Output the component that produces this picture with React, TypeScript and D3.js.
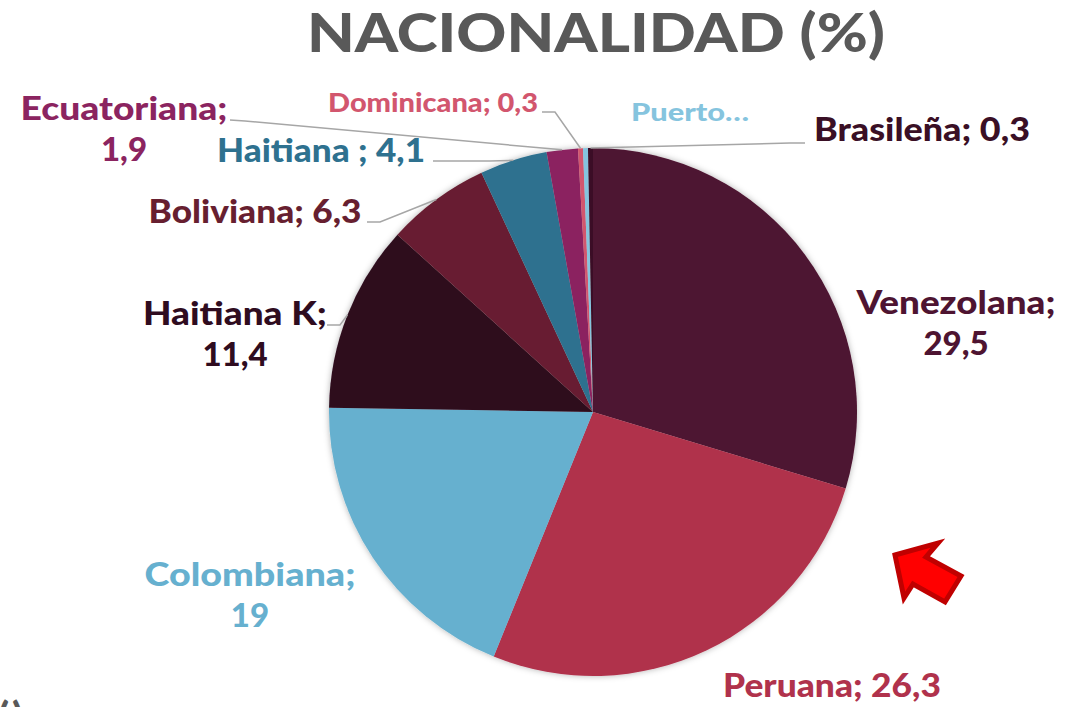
import React, { useEffect, useRef } from "react";
import * as d3 from "d3";

const categories = ["Venezolana", "Peruana", "Colombiana", "Haitiana K", "Boliviana", "Haitiana", "Ecuatoriana", "Dominicana", "Puerto Rico", "Brasileña"];
const values = [29.5, 26.3, 19, 11.4, 6.3, 4.1, 1.9, 0.3, 0.3, 0.3];
const colors = ["#4e1431", "#b0324c", "#66b0cf", "#2f0c1f", "#671f30", "#2e718f", "#8b2460", "#d2566e", "#85c4de", "#3a0f25"];

// label text lines, placed by hand like the manually moved labels of the original
// w = measured width of the first line, the original font runs wider than Lato
const labels = [
  { lines: ["Venezolana;", "29,5"], x: 956, y: 314, size: 33, w: 199, color: "#4e1431" },
  { lines: ["Peruana; 26,3"], x: 832, y: 697, size: 33, w: 218, color: "#b0324c" },
  { lines: ["Colombiana;", "19"], x: 250, y: 586, size: 33, w: 211, color: "#66b0cf" },
  { lines: ["Haitiana K;", "11,4"], x: 235, y: 325, size: 33, w: 184, color: "#2f0c1f" },
  { lines: ["Boliviana; 6,3"], x: 255, y: 223, size: 33, w: 213, color: "#671f30" },
  { lines: ["Haitiana ; 4,1"], x: 321, y: 162, size: 33, w: 208, color: "#2e718f" },
  { lines: ["Ecuatoriana;", "1,9"], x: 124, y: 120, size: 33, w: 207, color: "#8b2460" },
  { lines: ["Dominicana; 0,3"], x: 433, y: 112, size: 27, w: 210, color: "#d2566e" },
  { lines: ["Puerto…"], x: 690, y: 121, size: 25, w: 118, color: "#85c4de" },
  { lines: ["Brasileña; 0,3"], x: 922, y: 141, size: 33, w: 216, color: "#3a0f25" },
];

// leader line start and elbow for each label that has one
const leaders = [
  { index: 3, points: [[327, 325], [340, 325]] },
  { index: 4, points: [[367, 222], [380, 222]] },
  { index: 5, points: [[433, 161], [490, 161]] },
  { index: 6, points: [[230, 120], [245, 121]] },
  { index: 7, points: [[542, 112], [555, 112]] },
  { index: 9, points: [[805, 143], [790, 143]] },
];

const Chart = () => {
  const ref = useRef<SVGSVGElement>(null);

  useEffect(() => {
    const svg = d3.select(ref.current);
    svg.selectAll("*").remove();

    const width = 1084;
    const height = 707;
    const cx = 593;
    const cy = 412;
    const radius = 264;

    svg.attr("width", width).attr("height", height).attr("viewBox", [0, 0, width, height]);

    const filter = svg.append("defs").append("filter").attr("id", "pieShadow")
      .attr("x", "-10%").attr("y", "-10%").attr("width", "120%").attr("height", "120%");
    filter.append("feDropShadow").attr("dx", 0).attr("dy", 0).attr("stdDeviation", 3)
      .attr("flood-color", "#000").attr("flood-opacity", 0.3);

    const pie = d3.pie<number>().sort(null).value((d) => d);
    const arcs = pie(values);
    const arc = d3.arc<d3.PieArcDatum<number>>().innerRadius(0).outerRadius(radius);

    svg.append("text")
      .attr("x", 596).attr("y", 52)
      .attr("text-anchor", "middle")
      .attr("font-family", "Lato")
      .attr("font-weight", 900)
      .attr("font-size", 54)
      .attr("fill", "#595959")
      .attr("textLength", 578)
      .attr("lengthAdjust", "spacingAndGlyphs")
      .text("NACIONALIDAD (%)");

    const g = svg.append("g").attr("transform", `translate(${cx},${cy})`);
    g.append("g").attr("filter", "url(#pieShadow)")
      .selectAll("path")
      .data(arcs)
      .join("path")
      .attr("d", arc)
      .attr("fill", (d, i) => colors[i]);

    // leader lines end on the outer edge of their slice
    const line = d3.line();
    svg.append("g")
      .attr("fill", "none")
      .attr("stroke", "#a6a6a6")
      .attr("stroke-width", 1.5)
      .selectAll("path")
      .data(leaders)
      .join("path")
      .attr("d", (d) => {
        const a = arcs[d.index];
        const mid = (a.startAngle + a.endAngle) / 2;
        const end: [number, number] = [cx + radius * Math.sin(mid), cy - radius * Math.cos(mid)];
        return line([...(d.points as [number, number][]), end]);
      });

    const labelText = svg.append("g")
      .attr("font-family", "Lato")
      .attr("font-weight", 900)
      .attr("text-anchor", "middle")
      .selectAll("text")
      .data(labels)
      .join("text")
      .attr("y", (d) => d.y)
      .attr("font-size", (d) => d.size)
      .attr("fill", (d) => d.color);
    labelText.selectAll("tspan")
      .data((d) => d.lines.map((t, i) => ({ t, i, x: d.x, w: d.w })))
      .join("tspan")
      .attr("x", (d) => d.x)
      .attr("dy", (d) => (d.i === 0 ? 0 : 41))
      .attr("textLength", (d) => (d.i === 0 ? d.w : null))
      .attr("lengthAdjust", "spacingAndGlyphs")
      .text((d) => d.t);

    // red arrow pointing at the chart
    svg.append("polygon")
      .attr("points", "895,555 938,543 926,557 961,576 945,602 913,584 904,598")
      .attr("fill", "#ff0000")
      .attr("stroke", "#c00000")
      .attr("stroke-width", 5)
      .attr("stroke-linejoin", "miter");

    // cut off text at the bottom of the page
    svg.append("text")
      .attr("x", -2).attr("y", 731)
      .attr("font-family", "Lato")
      .attr("font-weight", 900)
      .attr("font-size", 40)
      .attr("letter-spacing", 3)
      .attr("fill", "#595959")
      .text("()");
  }, []);

  return <svg ref={ref} style={{ position: "absolute", left: 0, top: 0 }} />;
};

export default function App() {
  return <Chart />;
}
